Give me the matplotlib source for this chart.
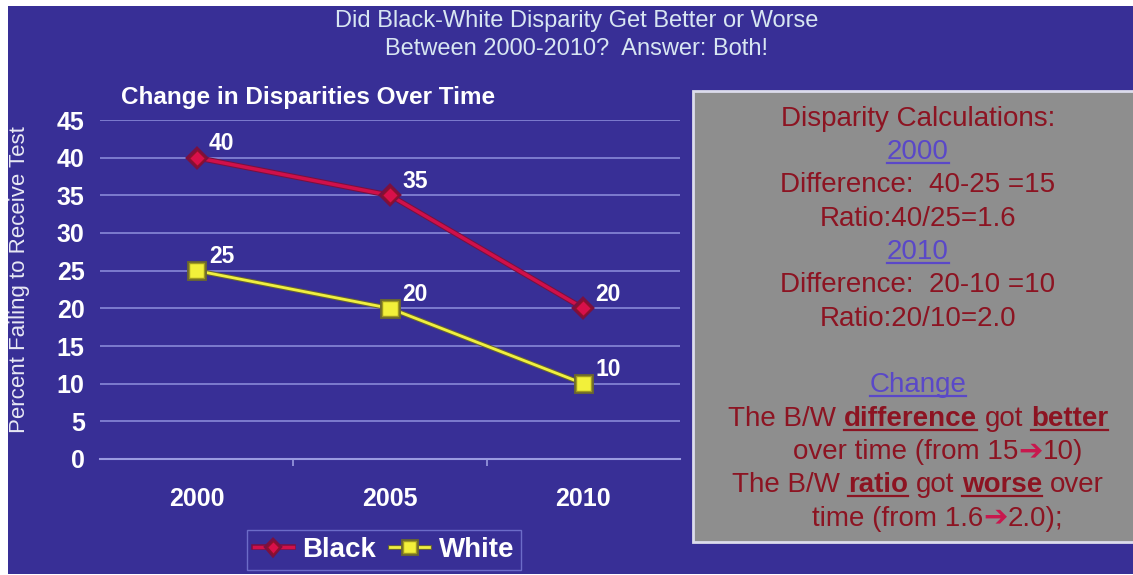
import matplotlib
matplotlib.use('Agg')
import matplotlib.pyplot as plt
import matplotlib.patheffects as pe
from matplotlib.patches import Rectangle
from matplotlib.lines import Line2D
from matplotlib.transforms import IdentityTransform

# data
years = ['2000', '2005', '2010']
black = [40, 35, 20]
white = [25, 20, 10]
yticks = [0, 5, 10, 15, 20, 25, 30, 35, 40, 45]

main_title = ['Did Black-White Disparity Get Better or Worse',
              'Between 2000-2010?  Answer: Both!']
chart_title = 'Change in Disparities Over Time'
ylabel = 'Percent Failing to Receive Test'

# text box lines: (text, style)  n=normal, b=bold underlined, h=heading, a=arrow
box_lines = [
    [('Disparity Calculations:', 'n')],
    [('2000', 'h')],
    [('Difference:  40-25 =15', 'n')],
    [('Ratio:40/25=1.6', 'n')],
    [('2010', 'h')],
    [('Difference:  20-10 =10', 'n')],
    [('Ratio:20/10=2.0', 'n')],
    [],
    [('Change', 'h')],
    [('The B/W ', 'n'), ('difference', 'b'), (' got ', 'n'), ('better', 'b')],
    [('over time (from 15', 'n'), ('\u2794', 'a'), ('10)', 'n')],
    [('The B/W ', 'n'), ('ratio', 'b'), (' got ', 'n'), ('worse', 'b'), (' over', 'n')],
    [('time (from 1.6', 'n'), ('\u2794', 'a'), ('2.0);', 'n')],
]

W, H = 1133, 575
BLUE = '#382f96'
GRID = '#8282d2'
RED_TXT = '#8c1422'
PURPLE = '#5a48c8'

plt.rcParams['font.family'] = ['Liberation Sans', 'DejaVu Sans']

fig = plt.figure(figsize=(W / 100, H / 100), dpi=100, facecolor='white')
# blue slide background (behind everything)
fig.patches.append(Rectangle((8 / W, 1 / H), 1, 568 / H, transform=fig.transFigure,
                             facecolor=BLUE, edgecolor='none', zorder=-5))

# slide titles
fig.text(577 / W, 1 - 21 / H, main_title[0], ha='center', va='center', color='#d8e6f2', fontsize=17)
fig.text(577 / W, 1 - 49 / H, main_title[1], ha='center', va='center', color='#d8e6f2', fontsize=17)
fig.text(121 / W, 1 - 98 / H, chart_title, ha='left', va='center', color='white',
         fontsize=17.5, fontweight='bold')
fig.text(20 / W, 1 - 280 / H, ylabel, rotation=90, ha='center', va='center',
         color='#e8e8f4', fontsize=16)

# line chart
ax = fig.add_axes([100 / W, 1 - 459 / H, 580 / W, 339 / H])
ax.set_facecolor('none')
x = range(len(years))
ax.plot(x, black, color='#d0104a', lw=2.5, marker='D', ms=8, mfc='#d8104a', mec='#90102a',
        label='Black', zorder=3,
        path_effects=[pe.Stroke(linewidth=4, foreground='#7a1040'), pe.Normal()])
ax.plot(x, white, color='#f0f040', lw=2, marker='s', ms=11, mfc='#f2f03a', mec='#a09a20',
        label='White', zorder=3,
        path_effects=[pe.Stroke(linewidth=3.5, foreground='#6a6630'), pe.Normal()])

for i, v in enumerate(black):
    ax.annotate(str(v), (i, v), xytext=(18, 10), textcoords='offset points', ha='center',
                va='center', color='white', fontsize=16.5, fontweight='bold')
for i, v in enumerate(white):
    ax.annotate(str(v), (i, v), xytext=(18, 10), textcoords='offset points', ha='center',
                va='center', color='white', fontsize=16.5, fontweight='bold')

ax.set_xlim(-0.5, len(years) - 0.5)
ax.set_ylim(0, 45)
ax.set_yticks(yticks)
ax.set_xticks(list(x))
ax.set_xticklabels(years)
ax.set_xticks([0.5, 1.5], minor=True)
ax.yaxis.grid(True, color=GRID, lw=1.3)
ax.set_axisbelow(True)
for s in ['top', 'right', 'left']:
    ax.spines[s].set_visible(False)
ax.spines['bottom'].set_color('#9a9ae0')
ax.spines['bottom'].set_linewidth(1.5)
ax.tick_params(axis='y', length=0, pad=11, labelsize=18, labelcolor='white')
ax.tick_params(axis='x', which='major', length=0, pad=20, labelsize=18, labelcolor='white')
ax.tick_params(axis='x', which='minor', length=5, color='#9a9ae0', width=1.2)
for lbl in ax.get_xticklabels() + ax.get_yticklabels():
    lbl.set_fontweight('bold')

leg = fig.legend(loc='center', bbox_to_anchor=(384 / W, 1 - 550 / H), ncol=2,
                 prop=dict(weight='bold', size=20), labelcolor='white', handlelength=1.4,
                 handletextpad=0.35, columnspacing=0.5, borderpad=0.25, fancybox=False,
                 facecolor=BLUE, edgecolor='#6c6cc8', framealpha=1, markerscale=0.8)
leg.get_frame().set_linewidth(1)

# gray calculation box
fig.patches.append(Rectangle((693 / W, 1 - 542 / H), 460 / W, 451 / H, transform=fig.transFigure,
                             facecolor='#8e8e8e', edgecolor='#dcdcec', lw=2, zorder=1))

styles = {
    'n': dict(color=RED_TXT, fontsize=20),
    'b': dict(color=RED_TXT, fontsize=20, fontweight='bold'),
    'h': dict(color=PURPLE, fontsize=20),
    'a': dict(color='#c8184e', fontsize=21, fontweight='bold'),
}
underlined = {'b', 'h'}
renderer = fig.canvas.get_renderer()


def piece_width(s, kw):
    # measure advance width including spaces
    t = fig.text(0, 0, '|' + s + '|', **kw)
    w = t.get_window_extent(renderer).width
    t.set_text('||')
    w -= t.get_window_extent(renderer).width
    t.remove()
    return w


def draw_line(pieces, xc, yb):
    widths = [piece_width(s, styles[k]) for s, k in pieces]
    xx = xc - sum(widths) / 2
    for (s, k), w in zip(pieces, widths):
        core = s.strip(' ')
        lead = s[:len(s) - len(s.lstrip(' '))]
        x0 = xx + (piece_width(lead, styles[k]) if lead else 0)
        fig.text(x0, yb, core, transform=IdentityTransform(), ha='left', va='baseline',
                 zorder=2, **styles[k])
        if k in underlined:
            cw = piece_width(core, styles[k])
            fig.add_artist(Line2D([x0, x0 + cw], [yb - 4, yb - 4], transform=IdentityTransform(),
                                  color=styles[k]['color'], lw=1.6, zorder=2))
        xx += w


for i, pieces in enumerate(box_lines):
    if not pieces:
        continue
    cy = 117 + 33.35 * i
    xc = 918 + (20 if i in (10, 12) else 0)
    draw_line(pieces, xc, H - (cy + 8.5))

fig.savefig('out.png', dpi=100, facecolor=fig.get_facecolor())
